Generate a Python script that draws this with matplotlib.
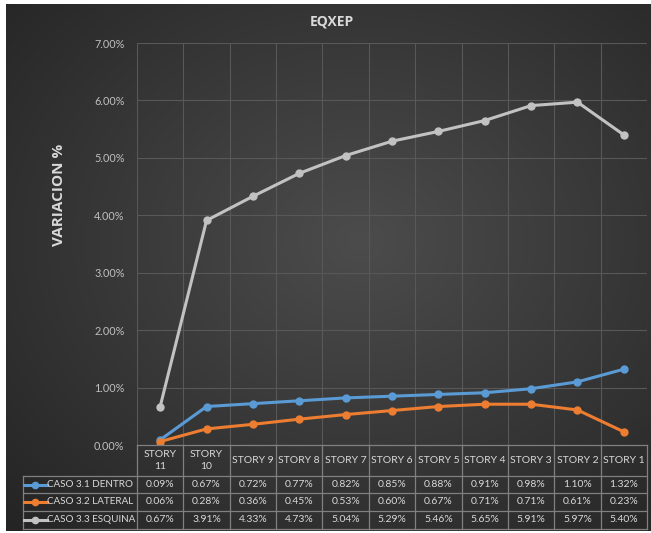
import numpy as np
import matplotlib
matplotlib.use("Agg")
import matplotlib.pyplot as plt
from matplotlib.lines import Line2D
from matplotlib.transforms import blended_transform_factory

plt.rcParams['font.family'] = ['Lato', 'DejaVu Sans']

# ---- data ----
stories = ["STORY 11", "STORY 10", "STORY 9", "STORY 8", "STORY 7", "STORY 6",
           "STORY 5", "STORY 4", "STORY 3", "STORY 2", "STORY 1"]
header_labels = ["STORY\n11", "STORY\n10", "STORY 9", "STORY 8", "STORY 7", "STORY 6",
                 "STORY 5", "STORY 4", "STORY 3", "STORY 2", "STORY 1"]
series_names = ["CASO 3.1 DENTRO", "CASO 3.2 LATERAL", "CASO 3.3 ESQUINA"]
dentro = [0.09, 0.67, 0.72, 0.77, 0.82, 0.85, 0.88, 0.91, 0.98, 1.10, 1.32]
lateral = [0.06, 0.28, 0.36, 0.45, 0.53, 0.60, 0.67, 0.71, 0.71, 0.61, 0.23]
esquina = [0.67, 3.91, 4.33, 4.73, 5.04, 5.29, 5.46, 5.65, 5.91, 5.97, 5.40]
y_ticks = [0, 1, 2, 3, 4, 5, 6, 7]

colors = ["#5b9bd5", "#ed7d31", "#c2c2c2"]
series = [dentro, lateral, esquina]

W, H = 651, 533
fig = plt.figure(figsize=(W / 100, H / 100), dpi=100, facecolor="white")

# dark radial-gradient background
bg = fig.add_axes([6 / W, 1 - 531 / H, (W - 6) / W, (531 - 4) / H])
bg.set_axis_off()
yy, xx = np.mgrid[0:1:300j, 0:1:300j]
r = np.sqrt(((xx - 0.55) / 0.75) ** 2 + ((yy - 0.45) / 0.75) ** 2)
r = np.clip(r / r.max(), 0, 1)
c0 = np.array([0x4c, 0x4c, 0x4c]) / 255
c1 = np.array([0x24, 0x24, 0x24]) / 255
img = c0[None, None, :] * (1 - r[..., None]) + c1[None, None, :] * r[..., None]
bg.imshow(img, aspect="auto", extent=[0, 1, 0, 1], origin="upper")
bg.set_xlim(0, 1)
bg.set_ylim(0, 1)

# plot area
left, right, top, bottom = 137, 647, 43, 445
ax = fig.add_axes([left / W, 1 - bottom / H, (right - left) / W, (bottom - top) / H])
ax.patch.set_alpha(0)
x = np.arange(len(stories))
ax.set_xlim(-0.5, len(stories) - 0.5)
ax.set_ylim(0, 7)
ax.set_yticks(y_ticks)
ax.set_yticklabels([f"{t:.2f}%" for t in y_ticks], color="#bfbfbf", fontsize=7.8)
ax.tick_params(axis="y", length=0, pad=9)
ax.set_xticks([])
for s in ax.spines.values():
    s.set_visible(False)
grid_c = "#585858"
for t in y_ticks[1:]:
    ax.axhline(t, color=grid_c, lw=0.8, zorder=1)
for b in np.arange(-0.5, len(stories), 1.0):
    ax.axvline(b, color=grid_c, lw=0.8, zorder=1)

for vals, c in zip(series, colors):
    ax.plot(x, vals, color=c, lw=2.2, marker="o", markersize=5, zorder=3,
            solid_capstyle="round")

fig.text(332 / W, 1 - 21 / H, "EQXEP", ha="center", va="center",
         color="#d9d9d9", fontsize=10, fontweight="bold", family="Open Sans")
fig.text(59 / W, 1 - 195 / H, "VARIACION %", ha="center", va="center",
         rotation=90, color="#d9d9d9", fontsize=11, fontweight="bold",
         family="Open Sans")

# data table below the plot
tr = blended_transform_factory(ax.transData, fig.transFigure)
trf = fig.transFigure
line_c = "#808080"
txt_c = "#d9d9d9"
fs_tab = 7.5
rows_px = [445, 476, 493, 511, 529]
ry = [1 - p / H for p in rows_px]
label_left = 23 / W
x_l, x_r = -0.5, len(stories) - 0.5

# horizontal rules
fig.add_artist(Line2D([x_l, x_r], [ry[0], ry[0]], transform=tr, color=line_c, lw=0.9))
for yv in ry[1:]:
    fig.add_artist(Line2D([label_left, right / W], [yv, yv], transform=trf,
                          color=line_c, lw=0.9))
# vertical rules
for b in np.arange(-0.5, len(stories), 1.0):
    fig.add_artist(Line2D([b, b], [ry[0], ry[-1]], transform=tr, color=line_c, lw=0.9))
fig.add_artist(Line2D([label_left, label_left], [ry[1], ry[-1]], transform=trf,
                      color=line_c, lw=0.9))

# header
for i, lab in enumerate(header_labels):
    fig.text(i, (ry[0] + ry[1]) / 2, lab, transform=tr, ha="center", va="center",
             color=txt_c, fontsize=fs_tab, linespacing=1.5)

# value rows
for k, (name, vals, c) in enumerate(zip(series_names, series, colors)):
    yc = (ry[k + 1] + ry[k + 2]) / 2
    fig.add_artist(Line2D([24 / W, 47 / W], [yc, yc], transform=trf, color=c, lw=2.2))
    fig.add_artist(Line2D([35 / W], [yc], transform=trf, color=c, marker="o",
                          markersize=4.5, lw=0))
    fig.text(47 / W, yc, name, transform=trf, ha="left", va="center",
             color=txt_c, fontsize=7.1)
    for i, v in enumerate(vals):
        fig.text(i, yc, f"{v:.2f}%", transform=tr, ha="center", va="center",
                 color=txt_c, fontsize=fs_tab)

fig.savefig("out.png", dpi=100, facecolor=fig.get_facecolor())
